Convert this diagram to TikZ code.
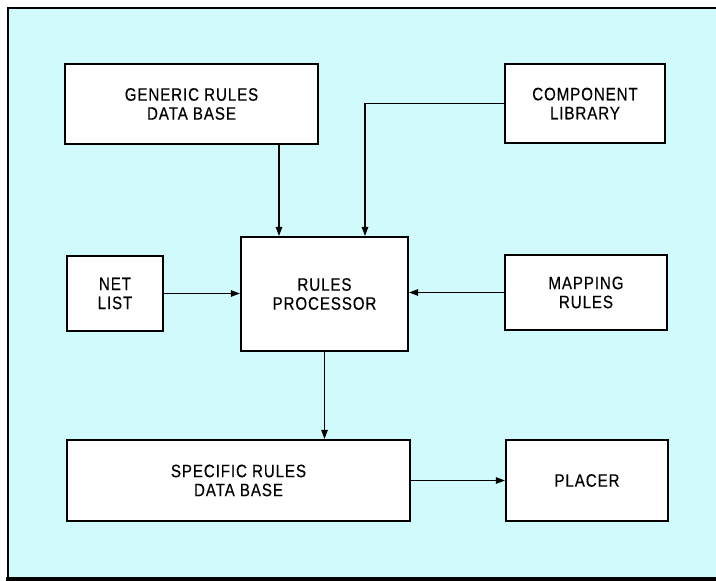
\documentclass[tikz,border=0pt]{standalone}
\usepackage{fontspec}
\setmainfont{Liberation Sans}[FakeStretch=0.84,LetterSpace=5,FakeBold=0.4]
\usepackage{xcolor}
\usetikzlibrary{arrows.meta}
\definecolor{panelcyan}{RGB}{208,250,252}

\begin{document}
\begin{tikzpicture}[x=1pt,y=-1pt,
    blk/.style={draw, line width=2.2pt, fill=white, align=center,
      inner sep=0pt, font=\fontsize{18}{19}\selectfont},
    arr/.style={-{Triangle[length=9pt,width=6.5pt]}, line width=1.1pt}]
    \useasboundingbox (0,0) rectangle (716,581);
    % panel
    \fill[panelcyan] (8,8) rectangle (730,578);
    \draw[line width=1.4pt] (8,578) -- (8,8) -- (716,8);
    \draw[line width=4pt] (6,578.5) -- (716,578.5);

    \node[blk, minimum width=253pt, minimum height=80pt] (generic) at (191.5,104) {GENERIC RULES\\DATA BASE};
    \node[blk, minimum width=160pt, minimum height=79pt] (component) at (585,103.5) {COMPONENT\\LIBRARY};
    \node[blk, minimum width=167pt, minimum height=114pt] (proc) at (324.5,294) {RULES\\PROCESSOR};
    \node[blk, minimum width=96pt, minimum height=75pt] (netlist) at (115,293.5) {NET\\LIST};
    \node[blk, minimum width=162pt, minimum height=75pt] (mapping) at (586,292.5) {MAPPING\\RULES};
    \node[blk, minimum width=343pt, minimum height=81pt] (specific) at (238.5,480.5) {SPECIFIC RULES\\DATA BASE};
    \node[blk, minimum width=162pt, minimum height=81pt] (placer) at (587,480.5) {PLACER};

    \draw[arr] ([xshift=-45.5pt]proc.north |- generic.south) -- ([xshift=-45.5pt]proc.north);
    \draw[arr] (component.west) -| ([xshift=40.5pt]proc.north);
    \draw[arr] (netlist.east) -- (netlist.east -| proc.west);
    \draw[arr] (mapping.west) -- (mapping.west -| proc.east);
    \draw[arr] (proc.south) -- (proc.south |- specific.north);
    \draw[arr] (specific.east) -- (placer.west);
\end{tikzpicture}
\end{document}
